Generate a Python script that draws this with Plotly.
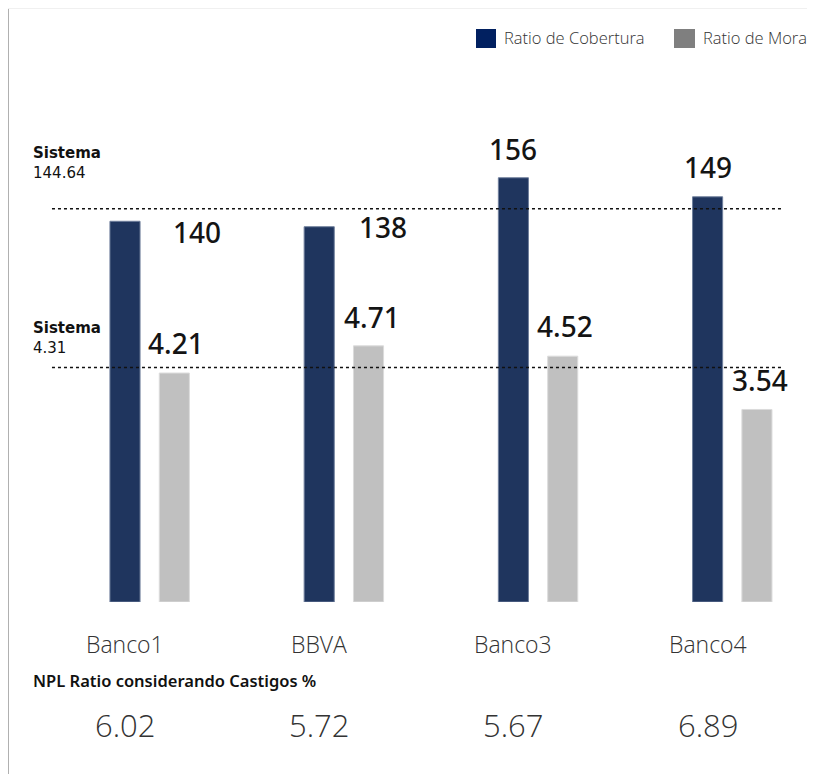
import plotly.graph_objects as go

# datos
bancos = ["Banco1", "BBVA", "Banco3", "Banco4"]
cobertura = [140, 138, 156, 149]
mora = [4.21, 4.71, 4.52, 3.54]
npl_castigos = ["6.02", "5.72", "5.67", "6.89"]
sistema_cobertura = 144.64
sistema_mora = 4.31

# la pagina deja 8px de margen en el body, asi que la figura es 8px mas chica
OFF = 8
W, H = 815 - OFF, 774 - OFF
AZUL = "#1f355e"
GRIS = "#c0c0c0"

# separacion de etiquetas respecto a la barra (px)
shift_cob = [(72, -11), (64, 0), (0, 29), (0, 30)]
shift_mora = [(51, 30), (53, 29), (52, 30), (52, 29)]


def px(x):
    return (x - OFF) / W


def py(y):
    return 1 - (y - OFF) / H


txt = dict(showarrow=False, xanchor="center", yanchor="middle")

fig = go.Figure()
fig.add_trace(go.Bar(x=bancos, y=cobertura, name="Ratio de Cobertura",
                     marker=dict(color=AZUL, line=dict(color="#6f7f9c", width=1)),
                     width=0.155, offset=-0.0775, yaxis="y"))
fig.add_trace(go.Bar(x=bancos, y=mora, name="Ratio de Mora",
                     marker=dict(color=GRIS, line=dict(color="#dcdcdc", width=1)),
                     width=0.155, offset=0.1765, yaxis="y2"))

ann = []
for i, b in enumerate(bancos):
    ann.append(dict(txt, x=i, y=cobertura[i], yref="y", text=str(cobertura[i]),
                    xshift=shift_cob[i][0], yshift=shift_cob[i][1],
                    font=dict(family="Noto Sans", size=28, color="#141414", weight=500)))
    ann.append(dict(txt, x=i, y=mora[i], yref="y2", text=f"{mora[i]:.2f}",
                    xshift=shift_mora[i][0], yshift=shift_mora[i][1],
                    font=dict(family="Noto Sans", size=28, color="#141414", weight=500)))
    ann.append(dict(txt, x=i, y=py(644), yref="paper", text=b,
                    font=dict(family="Open Sans", size=23, color="#333333", weight=300)))
    ann.append(dict(txt, x=i, y=py(725), yref="paper", text=npl_castigos[i],
                    font=dict(family="Open Sans", size=31, color="#333333", weight=300)))

ann.append(dict(txt, x=px(31), y=py(680), xref="paper", yref="paper", xanchor="left",
                text="NPL Ratio considerando Castigos %",
                font=dict(family="Noto Sans", size=16.5, color="#111111", weight=600)))
ann.append(dict(txt, x=px(31), y=py(163), xref="paper", yref="paper", xanchor="left", align="left",
                text=f"<b>Sistema</b><br>{sistema_cobertura:.2f}",
                font=dict(family="DejaVu Sans", size=15, color="#111111")))
ann.append(dict(txt, x=px(31), y=py(338), xref="paper", yref="paper", xanchor="left", align="left",
                text=f"<b>Sistema</b><br>{sistema_mora:.2f}",
                font=dict(family="DejaVu Sans", size=15, color="#111111")))

# leyenda manual
ann.append(dict(txt, x=px(502), y=py(38), xref="paper", yref="paper", xanchor="left",
                text="Ratio de Cobertura",
                font=dict(family="Open Sans", size=16.5, color="#333333", weight=300)))
ann.append(dict(txt, x=px(701), y=py(38), xref="paper", yref="paper", xanchor="left",
                text="Ratio de Mora",
                font=dict(family="Open Sans", size=16.5, color="#333333", weight=300)))

shapes = [
    dict(type="rect", xref="paper", yref="paper", x0=0, x1=1, y0=py(9), y1=1,
         fillcolor="#f0f0f0", line_width=0, layer="below"),
    dict(type="rect", xref="paper", yref="paper", x0=0, x1=px(9), y0=0, y1=py(9),
         fillcolor="#b0b0b0", line_width=0),
    dict(type="rect", xref="paper", yref="paper", x0=px(476), x1=px(496), y0=py(48), y1=py(29),
         fillcolor="#012060", line_width=0),
    dict(type="rect", xref="paper", yref="paper", x0=px(674), x1=px(695), y0=py(48), y1=py(29),
         fillcolor="#7f7f7f", line_width=0),
    dict(type="line", xref="x", yref="y", x0=-0.376, x1=3.39,
         y0=sistema_cobertura, y1=sistema_cobertura,
         line=dict(color="#111111", width=1.5, dash="dot")),
    dict(type="line", xref="x", yref="y2", x0=-0.376, x1=3.39,
         y0=sistema_mora, y1=sistema_mora,
         line=dict(color="#111111", width=1.5, dash="dot")),
]

# eje x: categoria i en el pixel 125 + 194.2*i de la ventana
x_lo = (OFF - 125) / 194.2
x_hi = (815 - 125) / 194.2

fig.update_layout(
    width=W, height=H,
    margin=dict(l=0, r=0, t=0, b=0),
    paper_bgcolor="white", plot_bgcolor="rgba(0,0,0,0)",
    barmode="overlay", showlegend=False,
    xaxis=dict(domain=[0, 1], range=[x_lo, x_hi], visible=False),
    yaxis=dict(domain=[py(602), py(100)], range=[0, 184.6], visible=False),
    yaxis2=dict(domain=[py(602), py(100)], range=[0, 9.23], overlaying="y", visible=False),
    annotations=ann, shapes=shapes,
)

fig.write_html("out.html")
